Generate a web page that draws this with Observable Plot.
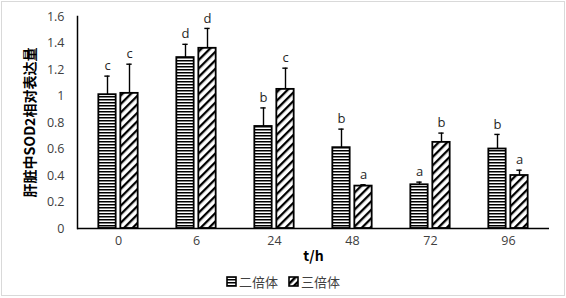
<!DOCTYPE html>
<html><head><meta charset="utf-8">
<script src="https://cdn.jsdelivr.net/npm/d3@7"></script>
<script src="https://cdn.jsdelivr.net/npm/@observablehq/plot@0.6"></script>
<style>
body{margin:0;background:#fff;font-family:"Open Sans","Noto Sans CJK SC",sans-serif;}
#wrap{position:relative;width:566px;height:298px;overflow:hidden;background:#fff}
#chart svg{display:block}
#border{position:absolute;left:1px;top:1px;width:564px;height:295px;border:1px solid #d9d9d9;box-sizing:border-box;pointer-events:none}
#legend{position:absolute;left:0;top:268px;width:566px;height:26px;display:flex;justify-content:center;align-items:center;font-family:"Noto Sans CJK SC",sans-serif;font-size:13px;color:#404040}
#legend .item{display:flex;align-items:center;margin:0 5px}
#legend svg{margin-right:2px}
</style></head><body>
<div id="wrap"><div id="chart"></div><div id="legend"></div><div id="border"></div></div>
<script>
const times = ["0","6","24","48","72","96"];
const series = ["二倍体","三倍体"];
const diploid = [1.01, 1.29, 0.77, 0.61, 0.33, 0.60];
const diploidErr = [0.14, 0.10, 0.14, 0.14, 0.02, 0.11];
const diploidLetters = ["c","d","b","b","a","b"];
const triploid = [1.02, 1.36, 1.05, 0.32, 0.65, 0.40];
const triploidErr = [0.22, 0.15, 0.16, 0.01, 0.07, 0.04];
const triploidLetters = ["c","d","c","a","b","a"];
const yTicks = [0,0.2,0.4,0.6,0.8,1,1.2,1.4,1.6];
const yTickLabels = ["0","0.2","0.4","0.6","0.8","1","1.2","1.4","1.6"];
const xLabel = "t/h";
const yLabel = "肝脏中SOD2相对表达量";

const W = 566, H = 268, mL = 77, mR = 17, mT = 16, mB = 40;
const band = (W - mL - mR) / times.length;
const barW = 18, gap = 4, capW = 6;
const barInset = (band - barW) / 2;
const capInset = (band - capW) / 2;
const shift = (barW + gap) / 2;

const rows = [
  times.map((t,i)=>({t, s:series[0], v:diploid[i], e:diploidErr[i], l:diploidLetters[i]})),
  times.map((t,i)=>({t, s:series[1], v:triploid[i], e:triploidErr[i], l:triploidLetters[i]}))
];
const fills = ["url(#pat-h)","url(#pat-d)"];
const shifts = [-shift, shift];

const marks = [];
rows.forEach((r,k)=>{
  marks.push(Plot.barY(r, {x:"t", y:"v", fill:fills[k], stroke:"black", strokeWidth:1.8, insetLeft:barInset, insetRight:barInset, dx:shifts[k]}));
  marks.push(Plot.ruleX(r, {x:"t", y1:"v", y2:d=>d.v+d.e, stroke:"black", strokeWidth:1.4, dx:shifts[k]}));
  marks.push(Plot.tickY(r, {x:"t", y:d=>d.v+d.e, stroke:"black", strokeWidth:1.4, insetLeft:capInset, insetRight:capInset, dx:shifts[k]}));
  marks.push(Plot.text(r, {x:"t", y:d=>d.v+d.e, text:"l", dx:shifts[k], dy:-10, fontSize:13, fill:"#262626"}));
});
marks.push(Plot.ruleY([0], {stroke:"black", strokeWidth:1.5}));
marks.push(Plot.frame({anchor:"left", stroke:"black", strokeWidth:1.5}));

const chart = Plot.plot({
  width:W, height:H, marginLeft:mL, marginRight:mR, marginTop:mT, marginBottom:mB,
  style:{fontFamily:'"Open Sans","Noto Sans CJK SC",sans-serif', fontSize:"12.5px", color:"#404040", background:"transparent", overflow:"visible"},
  x:{domain:times, padding:0, tickSize:0, tickPadding:8, label:xLabel, labelAnchor:"center", labelOffset:32},
  y:{domain:[0,1.6], ticks:yTicks, tickFormat:(d)=>yTickLabels[yTicks.indexOf(d)], tickSize:0, tickPadding:13, label:yLabel, labelAnchor:"center", labelOffset:52},
  marks
});
const svg = d3.select(chart);
const defs = svg.insert("defs", ":first-child");
const ph = defs.append("pattern").attr("id","pat-h").attr("width",4).attr("height",3).attr("patternUnits","userSpaceOnUse");
ph.append("rect").attr("width",4).attr("height",3).attr("fill","white");
ph.append("rect").attr("width",4).attr("height",1.5).attr("fill","black");
const pd = defs.append("pattern").attr("id","pat-d").attr("width",6).attr("height",6).attr("patternUnits","userSpaceOnUse").attr("patternTransform","rotate(45)");
pd.append("rect").attr("width",6).attr("height",6).attr("fill","white");
pd.append("rect").attr("width",2.3).attr("height",6).attr("fill","black");
svg.selectAll('[aria-label="x-axis label"] text').text(xLabel);
svg.selectAll('[aria-label="y-axis label"] text').text(yLabel);
svg.selectAll('[aria-label="x-axis label"] text, [aria-label="y-axis label"] text').attr("font-weight","bold").attr("font-size","14px").attr("fill","#000").style("font-family",'"Noto Sans CJK SC","Open Sans",sans-serif');
document.getElementById("chart").appendChild(chart);

// legend
const legend = d3.select("#legend");
series.forEach((s,k)=>{
  const item = legend.append("div").attr("class","item");
  const sw = item.append("svg").attr("width",11).attr("height",11);
  const d = sw.append("defs");
  if (k===0){
    const p = d.append("pattern").attr("id","lg-h").attr("width",4).attr("height",3).attr("patternUnits","userSpaceOnUse");
    p.append("rect").attr("width",4).attr("height",3).attr("fill","white");
    p.append("rect").attr("width",4).attr("height",1.5).attr("fill","black");
  } else {
    const p = d.append("pattern").attr("id","lg-d").attr("width",5).attr("height",5).attr("patternUnits","userSpaceOnUse").attr("patternTransform","rotate(45)");
    p.append("rect").attr("width",5).attr("height",5).attr("fill","white");
    p.append("rect").attr("width",2.5).attr("height",5).attr("fill","black");
  }
  sw.append("rect").attr("x",1).attr("y",1).attr("width",9).attr("height",9).attr("fill", k===0?"url(#lg-h)":"url(#lg-d)").attr("stroke","black").attr("stroke-width",1.6);
  item.append("span").text(s);
});
</script>
</body></html>
